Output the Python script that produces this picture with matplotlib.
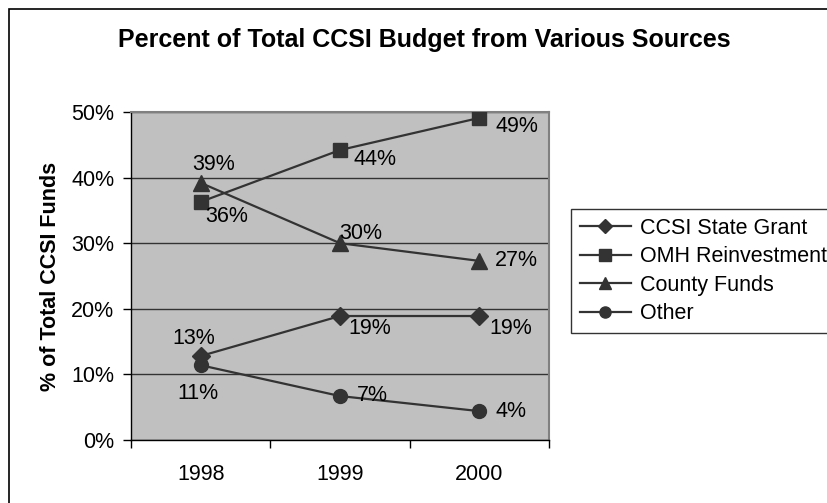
import matplotlib.pyplot as plt
from matplotlib.patches import Rectangle

plt.rcParams["font.family"] = ["Liberation Sans", "DejaVu Sans"]

years = ["1998", "1999", "2000"]
series_names = ["CCSI State Grant", "OMH Reinvestment", "County Funds", "Other"]
ccsi_grant = [12.8, 18.9, 18.9]
omh_reinvestment = [36.3, 44.2, 49.1]
county_funds = [39.2, 30.0, 27.3]
other = [11.4, 6.7, 4.4]
y_ticks = [0, 10, 20, 30, 40, 50]

# label offsets in pixels (dx, dy, horizontal alignment) for each point
label_offsets = {
    "CCSI State Grant": [(-7, 18, "center"), (8, -12, "left"), (10, -12, "left")],
    "OMH Reinvestment": [(5, -15, "left"), (14, -9, "left"), (16, -9, "left")],
    "County Funds": [(13, 18, "center"), (-1, 10, "left"), (16, 0, "left")],
    "Other": [(-3, -28, "center"), (17, 1, "left"), (16, 0, "left")],
}
markers = {"CCSI State Grant": ("D", 9), "OMH Reinvestment": ("s", 10),
           "County Funds": ("^", 11), "Other": ("o", 10)}
line_color = "#333333"
fs = 15.5

fig = plt.figure(figsize=(8.28, 5.03), dpi=100)
ax = fig.add_axes([131 / 828, 1 - 440 / 503, 418 / 828, 328 / 503])
ax.set_facecolor("#c0c0c0")

x = range(len(years))
all_values = [ccsi_grant, omh_reinvestment, county_funds, other]
for name, vals in zip(series_names, all_values):
    m, ms = markers[name]
    ax.plot(x, vals, color=line_color, lw=1.6, marker=m, markersize=ms,
            markerfacecolor=line_color, markeredgecolor=line_color, label=name,
            zorder=3)
    for xi, v, (dx, dy, ha) in zip(x, vals, label_offsets[name]):
        ax.annotate(f"{round(v)}%", (xi, v), xytext=(dx, dy),
                    textcoords="offset pixels", ha=ha, va="center",
                    fontsize=fs, color="black", zorder=4)

ax.set_xlim(-0.5, 2.5)
ax.set_ylim(0, 50)
ax.set_xticks([-0.5, 0.5, 1.5, 2.5])
ax.set_xticklabels([])
ax.set_xticks(list(x), minor=True)
ax.set_xticklabels(years, minor=True, fontsize=fs)
ax.tick_params(axis="x", which="minor", length=0, pad=17)
ax.tick_params(axis="x", which="major", length=6, direction="out", width=1)
ax.set_yticks(y_ticks)
ax.set_yticklabels([f"{t}%" for t in y_ticks], fontsize=fs)
ax.tick_params(axis="y", length=6, direction="out", width=1, pad=6)
ax.yaxis.grid(True, color="#333333", lw=1)
ax.set_axisbelow(True)
for side in ["top", "right"]:
    ax.spines[side].set_color("#808080")
    ax.spines[side].set_linewidth(1.5)
for side in ["left", "bottom"]:
    ax.spines[side].set_color("black")
    ax.spines[side].set_linewidth(1)

ax.set_ylabel("% of Total CCSI Funds", fontsize=fs, fontweight="bold", labelpad=7)

fig.text(424 / 828, 1 - 40 / 503, "Percent of Total CCSI Budget from Various Sources",
         ha="center", va="center", fontsize=18, fontweight="bold")

# outer chart border
fig.patches.append(Rectangle((9 / 828, -0.1), 1.1, 1.1 - 9 / 503,
                             transform=fig.transFigure, fill=False,
                             edgecolor="black", lw=1.2))

leg = fig.legend(loc="upper left", bbox_to_anchor=(571 / 828, 1 - 209 / 503, 300 / 828, 0),
                 mode="expand", fontsize=fs, frameon=True, fancybox=False,
                 edgecolor="black", handlelength=2.4, handletextpad=0.4,
                 labelspacing=0.35, borderpad=0.4, borderaxespad=0,
                 markerscale=0.8)
leg.get_frame().set_linewidth(1)

fig.savefig("out.png", dpi=100)
